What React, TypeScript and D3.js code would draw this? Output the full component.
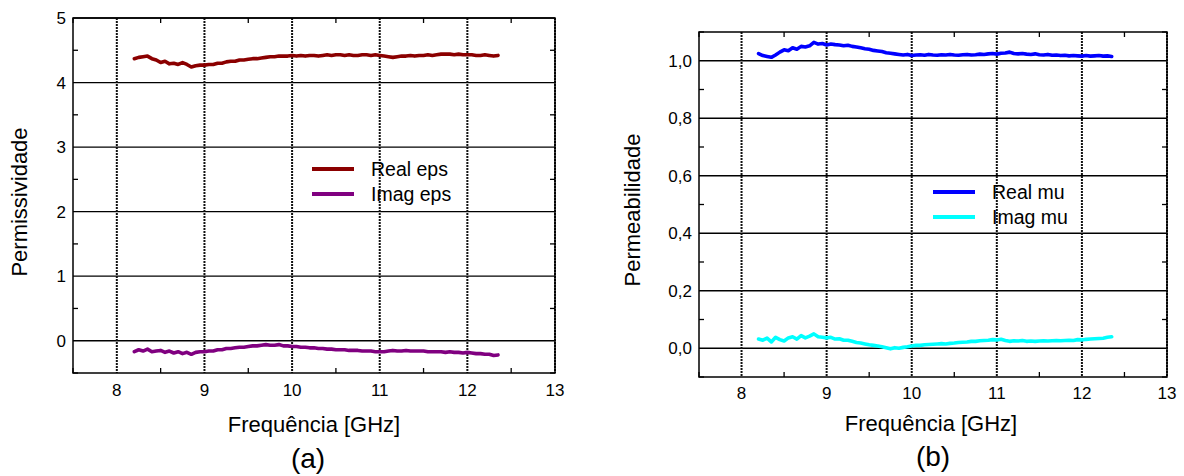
import React from "react";
import * as d3 from "d3";

const freq = [
  8.2, 8.25, 8.3, 8.35, 8.4, 8.45, 8.5, 8.55, 8.6, 8.65, 8.7, 8.75, 8.8, 8.85, 8.9, 8.95,
  9.0, 9.05, 9.1, 9.15, 9.2, 9.25, 9.3, 9.35, 9.4, 9.45, 9.5, 9.55, 9.6, 9.65, 9.7, 9.75,
  9.8, 9.85, 9.9, 9.95, 10.0, 10.05, 10.1, 10.15, 10.2, 10.25, 10.3, 10.35, 10.4, 10.45,
  10.5, 10.55, 10.6, 10.65, 10.7, 10.75, 10.8, 10.85, 10.9, 10.95, 11.0, 11.05, 11.1, 11.15,
  11.2, 11.25, 11.3, 11.35, 11.4, 11.45, 11.5, 11.55, 11.6, 11.65, 11.7, 11.75, 11.8, 11.85,
  11.9, 11.95, 12.0, 12.05, 12.1, 12.15, 12.2, 12.25, 12.3, 12.35,
];

const realEps = [
  4.37, 4.39, 4.4, 4.41, 4.37, 4.35, 4.31, 4.33, 4.29, 4.3, 4.28, 4.31, 4.28, 4.24, 4.26, 4.27,
  4.27, 4.28, 4.28, 4.3, 4.3, 4.32, 4.33, 4.33, 4.35, 4.35, 4.36, 4.37, 4.37, 4.38, 4.39, 4.4,
  4.4, 4.41, 4.41, 4.41, 4.42, 4.41, 4.42, 4.41, 4.42, 4.42, 4.41, 4.42, 4.43, 4.42,
  4.43, 4.43, 4.42, 4.43, 4.42, 4.42, 4.43, 4.43, 4.42, 4.43, 4.42, 4.41, 4.4, 4.39,
  4.4, 4.41, 4.41, 4.42, 4.41, 4.42, 4.42, 4.43, 4.42, 4.43, 4.44, 4.44, 4.44, 4.43,
  4.44, 4.43, 4.43, 4.43, 4.42, 4.42, 4.43, 4.42, 4.41, 4.42,
];

const imagEps = [
  -0.17, -0.14, -0.16, -0.13, -0.17, -0.16, -0.15, -0.18, -0.16, -0.19, -0.17, -0.2, -0.18, -0.21, -0.18, -0.17,
  -0.17, -0.16, -0.16, -0.14, -0.14, -0.12, -0.12, -0.11, -0.1, -0.1, -0.09, -0.08, -0.08, -0.07, -0.06, -0.07,
  -0.07, -0.06, -0.08, -0.08, -0.09, -0.09, -0.1, -0.1, -0.11, -0.11, -0.12, -0.12, -0.13, -0.13,
  -0.14, -0.14, -0.14, -0.15, -0.15, -0.15, -0.16, -0.16, -0.16, -0.17, -0.17, -0.17, -0.16, -0.15,
  -0.16, -0.16, -0.15, -0.16, -0.16, -0.16, -0.16, -0.17, -0.17, -0.17, -0.17, -0.18, -0.17, -0.18,
  -0.18, -0.19, -0.18, -0.19, -0.2, -0.2, -0.21, -0.21, -0.23, -0.22,
];

const realMu = [
  1.025, 1.018, 1.015, 1.012, 1.02, 1.03, 1.038, 1.035, 1.045, 1.04, 1.05, 1.048, 1.052, 1.064, 1.058, 1.06,
  1.055, 1.058, 1.056, 1.055, 1.052, 1.054, 1.05, 1.048, 1.045, 1.042, 1.04, 1.036, 1.034, 1.032, 1.028, 1.026,
  1.024, 1.022, 1.02, 1.022, 1.018, 1.02, 1.021, 1.019, 1.022, 1.02, 1.019, 1.021, 1.02, 1.022,
  1.02, 1.019, 1.021, 1.022, 1.02, 1.021, 1.023, 1.022, 1.024, 1.025, 1.023, 1.026, 1.027, 1.03,
  1.025, 1.024, 1.025, 1.023, 1.022, 1.024, 1.021, 1.02, 1.022, 1.019, 1.02, 1.018, 1.019, 1.017,
  1.018, 1.017, 1.016, 1.018, 1.016, 1.017, 1.018, 1.016, 1.017, 1.015,
];

const imagMu = [
  0.032, 0.028, 0.035, 0.022, 0.038, 0.03, 0.025, 0.036, 0.04, 0.032, 0.044, 0.036, 0.042, 0.05, 0.04, 0.038,
  0.036, 0.038, 0.032, 0.033, 0.028, 0.028, 0.024, 0.02, 0.018, 0.015, 0.012, 0.01, 0.008, 0.005, 0.002, -0.002,
  0.002, 0.0, 0.003, 0.005, 0.008, 0.01, 0.01, 0.012, 0.013, 0.014, 0.015, 0.016, 0.015, 0.017,
  0.018, 0.02, 0.021, 0.022, 0.024, 0.024, 0.026, 0.027, 0.028, 0.03, 0.029, 0.031, 0.027, 0.024,
  0.026, 0.025, 0.027, 0.024, 0.025, 0.024, 0.025, 0.026, 0.025, 0.026, 0.027, 0.026, 0.027, 0.028,
  0.027, 0.03, 0.029, 0.031, 0.032, 0.033, 0.034, 0.035, 0.038, 0.04,
];

const xTicks = [8, 9, 10, 11, 12, 13];
const xMinor = [7.5, 8.5, 9.5, 10.5, 11.5, 12.5];
const epsTicks = [0, 1, 2, 3, 4, 5];
const epsMinor = [-0.5, 0.5, 1.5, 2.5, 3.5, 4.5];
const muTicks = [0, 0.2, 0.4, 0.6, 0.8, 1.0];
const muMinor = [-0.1, 0.1, 0.3, 0.5, 0.7, 0.9, 1.1];

const FONT = "'Liberation Sans', Arial, Helvetica, sans-serif";

type Series = { name: string; values: number[]; color: string };

type PanelProps = {
  left: number;
  right: number;
  top: number;
  bottom: number;
  yDomain: [number, number];
  yTicks: number[];
  yMinor: number[];
  yFormat: (v: number) => string;
  yTitle: string;
  yTitleX: number;
  yTitleY: number;
  xLabelY: number;
  xTitleX: number;
  xTitleY: number;
  tag: string;
  tagX: number;
  tagY: number;
  series: Series[];
  legendX: number;
  legendY: number;
  legendGap: number;
};

function Panel(p: PanelProps) {
  const x = d3.scaleLinear().domain([7.5, 13]).range([p.left, p.right]);
  const y = d3.scaleLinear().domain(p.yDomain).range([p.bottom, p.top]);
  const line = d3
    .line<number>()
    .x((_, i) => x(freq[i]))
    .y((d) => y(d));
  const tl = 5;
  return (
    <g>
      {p.yTicks.map((t) => (
        <line key={"hg" + t} x1={p.left} x2={p.right} y1={y(t)} y2={y(t)} stroke="#000" strokeWidth={1.3} />
      ))}
      {xTicks.map((t) => (
        <line
          key={"vg" + t}
          x1={x(t)}
          x2={x(t)}
          y1={p.top}
          y2={p.bottom}
          stroke="#111"
          strokeWidth={2}
          strokeDasharray="2,1"
        />
      ))}
      {xMinor.map((t) => (
        <g key={"xm" + t}>
          <line x1={x(t)} x2={x(t)} y1={p.bottom} y2={p.bottom - tl} stroke="#000" strokeWidth={1.3} />
          <line x1={x(t)} x2={x(t)} y1={p.top} y2={p.top + tl} stroke="#000" strokeWidth={1.3} />
        </g>
      ))}
      {p.yMinor.map((t) => (
        <g key={"ym" + t}>
          <line x1={p.left} x2={p.left + tl} y1={y(t)} y2={y(t)} stroke="#000" strokeWidth={1.3} />
          <line x1={p.right} x2={p.right - tl} y1={y(t)} y2={y(t)} stroke="#000" strokeWidth={1.3} />
        </g>
      ))}
      {p.series.map((s) => (
        <path
          key={s.name}
          d={line(s.values) || ""}
          fill="none"
          stroke={s.color}
          strokeWidth={3.6}
          strokeLinejoin="round"
          strokeLinecap="round"
        />
      ))}
      <rect
        x={p.left}
        y={p.top}
        width={p.right - p.left}
        height={p.bottom - p.top}
        fill="none"
        stroke="#000"
        strokeWidth={1.5}
      />
      {p.yTicks.map((t) => (
        <text
          key={"yl" + t}
          x={p.left - 7}
          y={y(t)}
          dy="0.36em"
          textAnchor="end"
          fontFamily={FONT}
          fontSize={17}
          fill="#000"
        >
          {p.yFormat(t)}
        </text>
      ))}
      {xTicks.map((t) => (
        <text
          key={"xl" + t}
          x={x(t)}
          y={p.xLabelY}
          textAnchor="middle"
          fontFamily={FONT}
          fontSize={17}
          fill="#000"
        >
          {t}
        </text>
      ))}
      <text x={p.xTitleX} y={p.xTitleY} textAnchor="middle" fontFamily={FONT} fontSize={22} fill="#000">
        Frequência [GHz]
      </text>
      <text
        transform={`translate(${p.yTitleX},${p.yTitleY}) rotate(-90)`}
        textAnchor="middle"
        fontFamily={FONT}
        fontSize={22}
        fill="#000"
      >
        {p.yTitle}
      </text>
      <text x={p.tagX} y={p.tagY} textAnchor="middle" fontFamily={FONT} fontSize={28} fill="#000">
        {p.tag}
      </text>
      {p.series.map((s, i) => (
        <g key={"lg" + s.name} transform={`translate(${p.legendX},${p.legendY + i * p.legendGap})`}>
          <line x1={0} x2={42} y1={0} y2={0} stroke={s.color} strokeWidth={3.8} />
          <text x={59} y={0} dy="0.36em" fontFamily={FONT} fontSize={19.5} fill="#000">
            {s.name}
          </text>
        </g>
      ))}
    </g>
  );
}

export default function App() {
  const fmtA = (v: number) => d3.format("d")(v);
  const fmtB = (v: number) => d3.format(".1f")(v).replace(".", ",");
  return (
    <svg
      width={1184}
      height={476}
      style={{ position: "absolute", left: 0, top: 0, background: "#fff" }}
    >
      <rect width={1184} height={476} fill="#fff" />
      <Panel
        left={73}
        right={555}
        top={18}
        bottom={373}
        yDomain={[-0.5, 5]}
        yTicks={epsTicks}
        yMinor={epsMinor}
        yFormat={fmtA}
        yTitle="Permissividade"
        yTitleX={27}
        yTitleY={202}
        xLabelY={396}
        xTitleX={314}
        xTitleY={432}
        tag="(a)"
        tagX={308}
        tagY={468}
        series={[
          { name: "Real eps", values: realEps, color: "#8b0000" },
          { name: "Imag eps", values: imagEps, color: "#800080" },
        ]}
        legendX={312}
        legendY={169}
        legendGap={25}
      />
      <Panel
        left={699}
        right={1167}
        top={32}
        bottom={377}
        yDomain={[-0.1, 1.1]}
        yTicks={muTicks}
        yMinor={muMinor}
        yFormat={fmtB}
        yTitle="Permeabilidade"
        yTitleX={640}
        yTitleY={210}
        xLabelY={399}
        xTitleX={931}
        xTitleY={431}
        tag="(b)"
        tagX={933}
        tagY={466}
        series={[
          { name: "Real mu", values: realMu, color: "#0000ff" },
          { name: "Imag mu", values: imagMu, color: "#00ffff" },
        ]}
        legendX={933}
        legendY={192}
        legendGap={25}
      />
    </svg>
  );
}
